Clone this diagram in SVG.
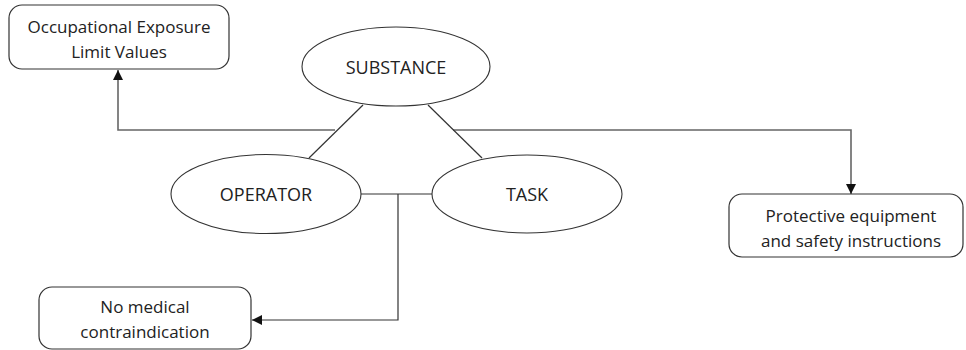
<svg xmlns="http://www.w3.org/2000/svg" width="966" height="350" viewBox="0 0 966 350">
<style>
.box{fill:#fff;stroke:#333;stroke-width:1.2}
.ell{fill:#fff;stroke:#333;stroke-width:1.1}
.t{font-family:"Open Sans","Liberation Sans",sans-serif;font-size:17px;fill:#222;text-anchor:middle}
.e{font-size:18px}
.c{fill:none;stroke:#333;stroke-width:1.2}
.g{fill:none;stroke:#666;stroke-width:1.6}
</style>
<defs>
<marker id="ah" viewBox="0 0 10 10" refX="10" refY="5" markerWidth="10" markerHeight="10" markerUnits="userSpaceOnUse" orient="auto">
<path d="M0,0 L10,5 L0,10 Z" fill="#111"/>
</marker>
</defs>
<g id="connectors">
<path class="g" d="M335,130 H118 V70" marker-end="url(#ah)"/>
<path class="g" d="M453,130 H851 V194" marker-end="url(#ah)"/>
<path class="c" d="M363,105 L309,158"/>
<path class="c" d="M428,105 L482,158"/>
<path class="c" d="M361,194 H432"/>
<path class="c" d="M398,194 V320 H252" marker-end="url(#ah)"/>
</g>
<g id="oelv">
<rect class="box" x="9" y="5" width="220" height="64" rx="13"/>
<text class="t" x="119" y="33">Occupational Exposure</text>
<text class="t" x="119" y="58">Limit Values</text>
</g>
<g id="substance">
<ellipse class="ell" cx="396" cy="66.5" rx="94" ry="39.5"/>
<text class="t e" x="396" y="74">SUBSTANCE</text>
</g>
<g id="operator">
<ellipse class="ell" cx="266" cy="194" rx="95" ry="39.5"/>
<text class="t e" x="266" y="201">OPERATOR</text>
</g>
<g id="task">
<ellipse class="ell" cx="527" cy="194" rx="95" ry="39"/>
<text class="t e" x="527" y="201">TASK</text>
</g>
<g id="protective">
<rect class="box" x="729" y="194" width="234" height="63" rx="13"/>
<text class="t" x="851" y="222">Protective equipment</text>
<text class="t" x="851" y="247">and safety instructions</text>
</g>
<g id="medical">
<rect class="box" x="39" y="287" width="212" height="62" rx="13"/>
<text class="t" x="145" y="313">No medical</text>
<text class="t" x="145" y="338">contraindication</text>
</g>
</svg>
